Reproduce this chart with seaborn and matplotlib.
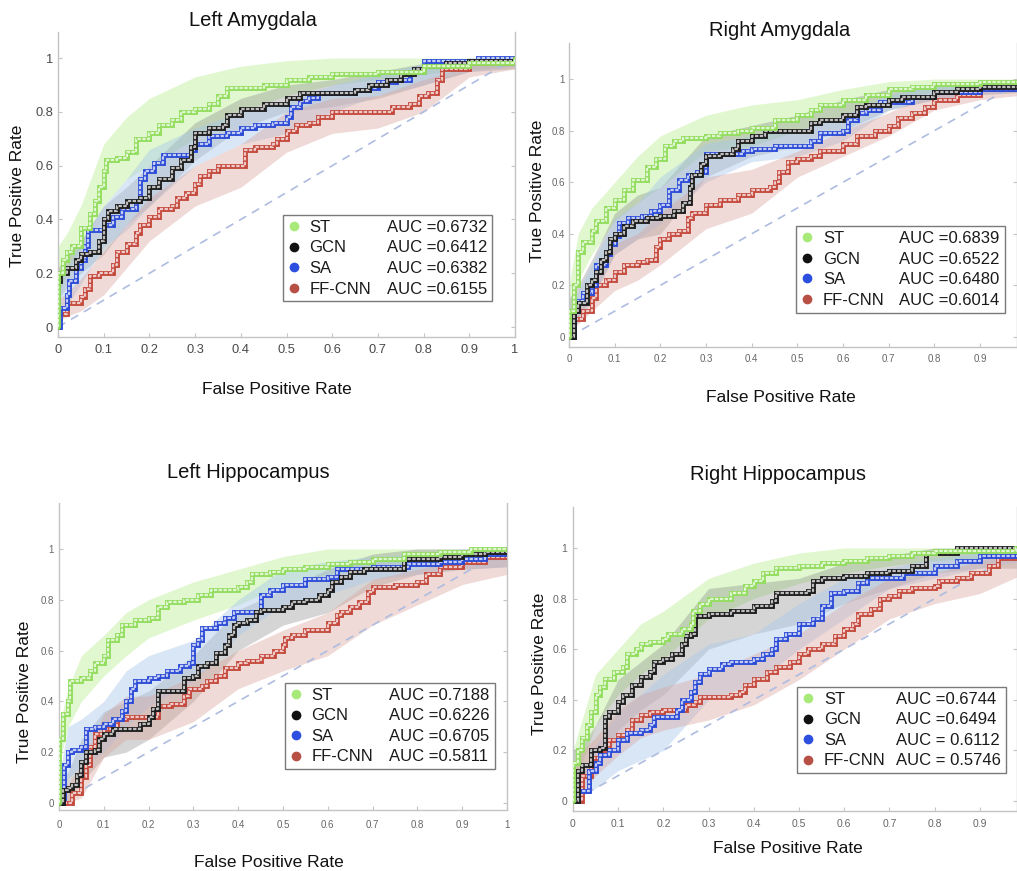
import matplotlib
matplotlib.use("Agg")
import matplotlib.pyplot as plt
import pandas as pd
import seaborn as sns
from matplotlib.lines import Line2D

sns.set_theme(style="white")
plt.rcParams['font.family'] = ['Liberation Sans', 'DejaVu Sans']

# ---------------- data ----------------
MODELS = ["ST", "GCN", "SA", "FF-CNN"]
PANEL_TITLES = ["Left Amygdala", "Right Amygdala", "Left Hippocampus", "Right Hippocampus"]
AUC_LA = ["AUC =0.6732", "AUC =0.6412", "AUC =0.6382", "AUC =0.6155"]
AUC_RA = ["AUC =0.6839", "AUC =0.6522", "AUC =0.6480", "AUC =0.6014"]
AUC_LH = ["AUC =0.7188", "AUC =0.6226", "AUC =0.6705", "AUC =0.5811"]
AUC_RH = ["AUC =0.6744", "AUC =0.6494", "AUC = 0.6112", "AUC = 0.5746"]
X_TICKS = [0, 0.1, 0.2, 0.3, 0.4, 0.5, 0.6, 0.7, 0.8, 0.9, 1.0]
X_TICK_LABELS = ["0", "0.1", "0.2", "0.3", "0.4", "0.5", "0.6", "0.7", "0.8", "0.9", "1"]
Y_TICKS = [0, 0.2, 0.4, 0.6, 0.8, 1.0]
Y_TICK_LABELS = ["0", "0.2", "0.4", "0.6", "0.8", "1"]
CHANCE_FPR = [0, 1]
CHANCE_TPR = [0, 1]
BAND_FPR = [0, 0.02, 0.05, 0.1, 0.15, 0.2, 0.3, 0.4, 0.5, 0.6, 0.7, 0.8, 0.9, 1.0]

# Left Amygdala (FPR, TPR) ROC vertices
LA_ST = [(0, 0), (0, 0.2), (0.01, 0.25), (0.02, 0.28), (0.03, 0.3), (0.05, 0.37), (0.07, 0.42), (0.08, 0.47),
         (0.09, 0.52), (0.1, 0.58), (0.105, 0.62), (0.13, 0.63), (0.15, 0.65), (0.17, 0.7), (0.2, 0.72),
         (0.22, 0.75), (0.25, 0.77), (0.27, 0.8), (0.3, 0.81), (0.33, 0.83), (0.35, 0.86), (0.37, 0.89),
         (0.45, 0.9), (0.5, 0.92), (0.55, 0.93), (0.6, 0.94), (0.7, 0.95), (0.8, 0.97), (0.9, 0.98), (1.0, 1.0)]
LA_GCN = [(0, 0), (0, 0.17), (0.005, 0.2), (0.02, 0.22), (0.04, 0.25), (0.05, 0.27), (0.07, 0.28), (0.09, 0.32),
          (0.1, 0.4), (0.11, 0.43), (0.13, 0.45), (0.15, 0.47), (0.18, 0.48), (0.2, 0.52), (0.22, 0.55),
          (0.25, 0.59), (0.27, 0.62), (0.29, 0.67), (0.3, 0.72), (0.33, 0.74), (0.36, 0.75), (0.37, 0.79),
          (0.4, 0.81), (0.45, 0.83), (0.5, 0.85), (0.53, 0.87), (0.65, 0.88), (0.68, 0.9), (0.72, 0.92),
          (0.75, 0.94), (0.78, 0.96), (0.8, 0.97), (0.85, 0.98), (0.9, 0.99), (1.0, 1.0)]
LA_SA = [(0, 0), (0.005, 0.07), (0.02, 0.12), (0.025, 0.17), (0.04, 0.22), (0.05, 0.25), (0.06, 0.3),
         (0.065, 0.36), (0.1, 0.38), (0.12, 0.41), (0.14, 0.44), (0.17, 0.47), (0.18, 0.55), (0.19, 0.58),
         (0.21, 0.61), (0.23, 0.64), (0.29, 0.66), (0.3, 0.68), (0.33, 0.71), (0.37, 0.72), (0.4, 0.74),
         (0.43, 0.75), (0.47, 0.76), (0.5, 0.78), (0.51, 0.82), (0.53, 0.84), (0.55, 0.85), (0.57, 0.87),
         (0.65, 0.88), (0.68, 0.89), (0.7, 0.91), (0.74, 0.92), (0.77, 0.95), (0.8, 0.99), (0.92, 1.0), (1.0, 1.0)]
LA_FF = [(0, 0), (0, 0.05), (0.02, 0.09), (0.05, 0.11), (0.06, 0.14), (0.07, 0.19), (0.09, 0.2), (0.12, 0.23),
         (0.13, 0.28), (0.15, 0.31), (0.17, 0.35), (0.18, 0.38), (0.2, 0.41), (0.22, 0.44), (0.25, 0.45),
         (0.26, 0.48), (0.28, 0.5), (0.3, 0.53), (0.31, 0.56), (0.33, 0.58), (0.35, 0.6), (0.41, 0.66),
         (0.43, 0.67), (0.47, 0.68), (0.48, 0.7), (0.5, 0.73), (0.52, 0.75), (0.55, 0.76), (0.57, 0.78),
         (0.6, 0.8), (0.7, 0.8), (0.73, 0.82), (0.77, 0.83), (0.79, 0.86), (0.81, 0.87), (0.83, 0.92),
         (0.84, 0.96), (0.9, 0.98), (1.0, 1.0)]

# Right Amygdala
RA_ST = [(0, 0), (0, 0.1), (0.01, 0.2), (0.02, 0.33), (0.03, 0.37), (0.05, 0.41), (0.06, 0.45), (0.08, 0.5),
         (0.1, 0.53), (0.12, 0.57), (0.14, 0.61), (0.17, 0.66), (0.19, 0.69), (0.21, 0.74), (0.23, 0.76),
         (0.25, 0.77), (0.3, 0.78), (0.33, 0.79), (0.37, 0.8), (0.4, 0.81), (0.45, 0.84), (0.5, 0.86),
         (0.53, 0.88), (0.55, 0.9), (0.6, 0.92), (0.65, 0.94), (0.7, 0.96), (0.75, 0.97), (0.8, 0.98),
         (0.9, 0.99), (1.0, 1.0)]
RA_GCN = [(0, 0), (0.01, 0.1), (0.02, 0.13), (0.04, 0.2), (0.05, 0.22), (0.06, 0.25), (0.07, 0.3), (0.08, 0.33),
          (0.09, 0.38), (0.1, 0.4), (0.12, 0.43), (0.14, 0.45), (0.17, 0.46), (0.2, 0.47), (0.23, 0.49),
          (0.25, 0.52), (0.265, 0.58), (0.27, 0.63), (0.29, 0.67), (0.3, 0.7), (0.33, 0.71), (0.36, 0.73),
          (0.37, 0.76), (0.4, 0.78), (0.43, 0.8), (0.53, 0.83), (0.55, 0.84), (0.6, 0.86), (0.63, 0.89),
          (0.65, 0.9), (0.7, 0.92), (0.73, 0.93), (0.8, 0.95), (0.85, 0.96), (0.9, 0.97), (1.0, 0.98)]
RA_SA = [(0, 0), (0.01, 0.02), (0.012, 0.1), (0.02, 0.14), (0.03, 0.17), (0.05, 0.2), (0.06, 0.28), (0.08, 0.32),
         (0.09, 0.36), (0.1, 0.39), (0.11, 0.44), (0.13, 0.46), (0.16, 0.47), (0.18, 0.49), (0.2, 0.51),
         (0.22, 0.57), (0.24, 0.61), (0.26, 0.63), (0.28, 0.64), (0.3, 0.71), (0.38, 0.72), (0.4, 0.73),
         (0.45, 0.74), (0.53, 0.76), (0.55, 0.79), (0.6, 0.8), (0.61, 0.84), (0.63, 0.87), (0.65, 0.88),
         (0.68, 0.91), (0.75, 0.93), (0.8, 0.95), (0.9, 0.96), (1.0, 0.97)]
RA_FF = [(0, 0), (0.01, 0.07), (0.03, 0.1), (0.05, 0.15), (0.06, 0.2), (0.08, 0.22), (0.1, 0.25), (0.12, 0.28),
         (0.15, 0.29), (0.17, 0.3), (0.19, 0.35), (0.2, 0.38), (0.22, 0.4), (0.24, 0.41), (0.26, 0.46),
         (0.27, 0.48), (0.3, 0.51), (0.33, 0.53), (0.37, 0.55), (0.4, 0.57), (0.44, 0.58), (0.45, 0.6),
         (0.46, 0.64), (0.48, 0.68), (0.5, 0.69), (0.53, 0.7), (0.55, 0.72), (0.6, 0.75), (0.63, 0.78),
         (0.67, 0.8), (0.7, 0.82), (0.72, 0.85), (0.75, 0.87), (0.78, 0.89), (0.8, 0.92), (0.85, 0.94),
         (0.9, 0.96), (1.0, 0.97)]

# Left Hippocampus
LH_ST = [(0, 0), (0, 0.25), (0.01, 0.35), (0.02, 0.4), (0.025, 0.48), (0.05, 0.49), (0.07, 0.52), (0.08, 0.55),
         (0.1, 0.58), (0.11, 0.64), (0.13, 0.66), (0.14, 0.7), (0.17, 0.72), (0.2, 0.73), (0.22, 0.77),
         (0.24, 0.79), (0.28, 0.8), (0.31, 0.82), (0.34, 0.84), (0.4, 0.85), (0.42, 0.87), (0.43, 0.9),
         (0.47, 0.91), (0.5, 0.92), (0.55, 0.93), (0.6, 0.94), (0.65, 0.95), (0.7, 0.96), (0.77, 0.98),
         (0.85, 0.99), (0.92, 1.0), (1.0, 1.0)]
LH_GCN = [(0, 0), (0.01, 0.05), (0.02, 0.06), (0.03, 0.07), (0.04, 0.11), (0.05, 0.16), (0.06, 0.2), (0.08, 0.21),
          (0.09, 0.25), (0.1, 0.27), (0.12, 0.29), (0.18, 0.31), (0.2, 0.34), (0.21, 0.37), (0.22, 0.44),
          (0.28, 0.49), (0.3, 0.5), (0.31, 0.54), (0.33, 0.55), (0.35, 0.59), (0.37, 0.62), (0.38, 0.66),
          (0.39, 0.7), (0.4, 0.71), (0.42, 0.72), (0.44, 0.75), (0.45, 0.76), (0.5, 0.77), (0.52, 0.79),
          (0.55, 0.8), (0.58, 0.82), (0.6, 0.84), (0.61, 0.87), (0.63, 0.89), (0.65, 0.91), (0.68, 0.92),
          (0.77, 0.96), (0.85, 0.97), (0.9, 0.98), (0.95, 0.99), (1.0, 1.0)]
LH_SA = [(0, 0), (0.01, 0.02), (0.012, 0.15), (0.02, 0.2), (0.03, 0.21), (0.05, 0.22), (0.06, 0.29), (0.08, 0.3),
         (0.1, 0.31), (0.12, 0.33), (0.14, 0.36), (0.15, 0.4), (0.16, 0.45), (0.17, 0.48), (0.2, 0.49),
         (0.22, 0.5), (0.24, 0.52), (0.27, 0.54), (0.29, 0.55), (0.3, 0.62), (0.31, 0.64), (0.32, 0.69),
         (0.35, 0.71), (0.37, 0.73), (0.39, 0.75), (0.45, 0.82), (0.47, 0.84), (0.5, 0.86), (0.55, 0.88),
         (0.6, 0.89), (0.62, 0.92), (0.7, 0.93), (0.78, 0.94), (0.85, 0.95), (0.9, 0.96), (0.95, 0.98), (1.0, 1.0)]
LH_FF = [(0, 0), (0.03, 0.04), (0.05, 0.1), (0.06, 0.15), (0.07, 0.22), (0.08, 0.27), (0.1, 0.29), (0.13, 0.33),
         (0.15, 0.34), (0.22, 0.38), (0.25, 0.39), (0.28, 0.42), (0.29, 0.45), (0.32, 0.46), (0.33, 0.48),
         (0.35, 0.5), (0.37, 0.53), (0.4, 0.55), (0.42, 0.56), (0.45, 0.58), (0.48, 0.6), (0.5, 0.62),
         (0.505, 0.65), (0.52, 0.66), (0.55, 0.68), (0.6, 0.71), (0.62, 0.74), (0.63, 0.75), (0.65, 0.77),
         (0.67, 0.79), (0.69, 0.83), (0.7, 0.85), (0.75, 0.86), (0.8, 0.87), (0.82, 0.9), (0.85, 0.93),
         (0.9, 0.95), (0.95, 0.97), (1.0, 0.99)]

# Right Hippocampus
RH_ST = [(0, 0), (0, 0.15), (0.01, 0.2), (0.02, 0.25), (0.03, 0.3), (0.04, 0.35), (0.05, 0.42), (0.06, 0.45),
         (0.07, 0.48), (0.09, 0.51), (0.11, 0.53), (0.12, 0.58), (0.14, 0.6), (0.15, 0.62), (0.17, 0.63),
         (0.2, 0.64), (0.21, 0.66), (0.24, 0.68), (0.26, 0.7), (0.265, 0.75), (0.28, 0.78), (0.3, 0.8),
         (0.35, 0.82), (0.38, 0.85), (0.4, 0.87), (0.42, 0.9), (0.45, 0.92), (0.5, 0.93), (0.55, 0.94),
         (0.6, 0.95), (0.65, 0.96), (0.7, 0.97), (0.75, 0.98), (0.8, 0.99), (0.98, 1.0), (1.0, 1.0)]
RH_GCN = [(0, 0), (0.01, 0.12), (0.02, 0.14), (0.04, 0.2), (0.06, 0.21), (0.07, 0.33), (0.08, 0.35), (0.1, 0.39),
          (0.11, 0.42), (0.13, 0.46), (0.15, 0.49), (0.17, 0.51), (0.18, 0.55), (0.2, 0.56), (0.22, 0.58),
          (0.24, 0.62), (0.25, 0.65), (0.26, 0.66), (0.27, 0.73), (0.3, 0.74), (0.35, 0.75), (0.4, 0.77),
          (0.44, 0.79), (0.45, 0.82), (0.52, 0.83), (0.53, 0.87), (0.55, 0.88), (0.6, 0.89), (0.65, 0.9),
          (0.7, 0.91), (0.75, 0.93), (0.78, 0.98), (0.85, 1.0), (1.0, 1.0)]
RH_SA = [(0, 0), (0.01, 0.04), (0.035, 0.12), (0.05, 0.15), (0.06, 0.18), (0.08, 0.2), (0.1, 0.24), (0.12, 0.27),
         (0.15, 0.28), (0.17, 0.3), (0.18, 0.33), (0.23, 0.36), (0.24, 0.4), (0.26, 0.43), (0.27, 0.47),
         (0.28, 0.5), (0.3, 0.52), (0.33, 0.54), (0.35, 0.55), (0.4, 0.56), (0.42, 0.58), (0.44, 0.6),
         (0.45, 0.64), (0.47, 0.66), (0.5, 0.7), (0.53, 0.72), (0.55, 0.77), (0.57, 0.82), (0.6, 0.83),
         (0.63, 0.86), (0.65, 0.88), (0.73, 0.9), (0.8, 0.93), (0.85, 0.95), (0.9, 0.97), (1.0, 0.99)]
RH_FF = [(0, 0), (0.02, 0.1), (0.04, 0.17), (0.06, 0.2), (0.08, 0.24), (0.1, 0.26), (0.12, 0.28), (0.13, 0.32),
         (0.15, 0.34), (0.17, 0.35), (0.2, 0.36), (0.25, 0.38), (0.27, 0.39), (0.28, 0.41), (0.35, 0.42),
         (0.37, 0.43), (0.38, 0.46), (0.4, 0.48), (0.43, 0.51), (0.45, 0.53), (0.48, 0.55), (0.5, 0.58),
         (0.52, 0.6), (0.55, 0.62), (0.58, 0.65), (0.6, 0.68), (0.62, 0.7), (0.63, 0.74), (0.66, 0.76),
         (0.68, 0.8), (0.7, 0.81), (0.72, 0.83), (0.75, 0.84), (0.8, 0.85), (0.81, 0.87), (0.85, 0.88),
         (0.88, 0.9), (0.92, 0.93), (0.94, 0.96), (1.0, 0.97)]

# shaded spread bands (lower / upper TPR on BAND_FPR)
LA_ST_LO = [0.12, 0.2, 0.3, 0.45, 0.55, 0.6, 0.7, 0.8, 0.86, 0.9, 0.92, 0.94, 0.96, 0.97]
LA_ST_HI = [0.3, 0.35, 0.45, 0.68, 0.78, 0.85, 0.93, 0.97, 0.99, 1.0, 1.0, 1.0, 1.0, 1.0]
LA_GCN_LO = [0.1, 0.15, 0.2, 0.27, 0.38, 0.45, 0.62, 0.74, 0.8, 0.82, 0.85, 0.9, 0.95, 0.96]
LA_GCN_HI = [0.22, 0.27, 0.32, 0.45, 0.52, 0.6, 0.76, 0.85, 0.9, 0.92, 0.95, 0.98, 1.0, 1.0]
LA_SA_LO = [0.04, 0.08, 0.16, 0.3, 0.36, 0.45, 0.6, 0.68, 0.72, 0.8, 0.86, 0.9, 0.95, 0.97]
LA_SA_HI = [0.15, 0.22, 0.32, 0.45, 0.55, 0.66, 0.74, 0.8, 0.84, 0.9, 0.94, 0.98, 1.0, 1.0]
LA_FF_LO = [0.02, 0.04, 0.06, 0.12, 0.22, 0.32, 0.45, 0.52, 0.65, 0.72, 0.74, 0.8, 0.93, 0.96]
LA_FF_HI = [0.1, 0.13, 0.18, 0.28, 0.38, 0.48, 0.6, 0.68, 0.8, 0.85, 0.86, 0.92, 0.97, 1.0]

RA_ST_LO = [0.05, 0.22, 0.32, 0.45, 0.52, 0.58, 0.72, 0.74, 0.8, 0.86, 0.92, 0.95, 0.97, 0.98]
RA_ST_HI = [0.2, 0.4, 0.5, 0.6, 0.7, 0.78, 0.86, 0.9, 0.92, 0.96, 0.99, 1.0, 1.0, 1.0]
RA_GCN_LO = [0.05, 0.08, 0.15, 0.32, 0.38, 0.4, 0.62, 0.7, 0.74, 0.8, 0.88, 0.92, 0.94, 0.95]
RA_GCN_HI = [0.15, 0.2, 0.3, 0.48, 0.55, 0.58, 0.78, 0.82, 0.86, 0.92, 0.96, 0.98, 0.99, 1.0]
RA_SA_LO = [0.0, 0.06, 0.14, 0.32, 0.38, 0.44, 0.6, 0.68, 0.7, 0.76, 0.88, 0.92, 0.94, 0.95]
RA_SA_HI = [0.1, 0.18, 0.28, 0.46, 0.52, 0.62, 0.75, 0.78, 0.8, 0.86, 0.94, 0.97, 0.98, 1.0]
RA_FF_LO = [0.03, 0.05, 0.1, 0.18, 0.22, 0.28, 0.42, 0.48, 0.62, 0.7, 0.78, 0.88, 0.92, 0.94]
RA_FF_HI = [0.1, 0.12, 0.22, 0.36, 0.4, 0.48, 0.62, 0.65, 0.72, 0.8, 0.87, 0.95, 0.97, 1.0]

LH_ST_LO = [0.15, 0.3, 0.4, 0.5, 0.58, 0.65, 0.72, 0.78, 0.86, 0.9, 0.92, 0.94, 0.95, 0.96]
LH_ST_HI = [0.3, 0.45, 0.58, 0.66, 0.75, 0.8, 0.87, 0.92, 0.97, 1.0, 1.0, 1.0, 1.0, 1.0]
LH_GCN_LO = [0.0, 0.0, 0.08, 0.18, 0.2, 0.25, 0.4, 0.6, 0.7, 0.75, 0.85, 0.9, 0.92, 0.93]
LH_GCN_HI = [0.1, 0.12, 0.25, 0.36, 0.4, 0.44, 0.58, 0.76, 0.84, 0.92, 0.98, 1.0, 1.0, 1.0]
LH_SA_LO = [0.0, 0.1, 0.14, 0.2, 0.3, 0.38, 0.48, 0.66, 0.78, 0.82, 0.88, 0.9, 0.92, 0.93]
LH_SA_HI = [0.1, 0.3, 0.33, 0.4, 0.52, 0.58, 0.64, 0.8, 0.92, 0.95, 0.97, 0.98, 1.0, 1.0]
LH_FF_LO = [0.0, 0.0, 0.02, 0.18, 0.25, 0.25, 0.32, 0.45, 0.52, 0.58, 0.7, 0.78, 0.86, 0.9]
LH_FF_HI = [0.05, 0.07, 0.15, 0.35, 0.42, 0.42, 0.5, 0.6, 0.68, 0.75, 0.88, 0.92, 0.96, 1.0]

RH_ST_LO = [0.08, 0.15, 0.3, 0.42, 0.5, 0.56, 0.72, 0.8, 0.86, 0.9, 0.93, 0.95, 0.96, 0.97]
RH_ST_HI = [0.2, 0.32, 0.5, 0.6, 0.7, 0.75, 0.88, 0.94, 0.98, 1.0, 1.0, 1.0, 1.0, 1.0]
RH_GCN_LO = [0.05, 0.08, 0.12, 0.28, 0.36, 0.42, 0.6, 0.66, 0.7, 0.78, 0.84, 0.9, 0.92, 0.92]
RH_GCN_HI = [0.2, 0.22, 0.3, 0.48, 0.55, 0.62, 0.84, 0.86, 0.88, 0.94, 0.97, 1.0, 1.0, 1.0]
RH_SA_LO = [0.0, 0.02, 0.05, 0.12, 0.16, 0.2, 0.4, 0.46, 0.6, 0.72, 0.84, 0.88, 0.92, 0.95]
RH_SA_HI = [0.05, 0.1, 0.22, 0.35, 0.42, 0.5, 0.62, 0.66, 0.78, 0.88, 0.92, 0.96, 0.98, 1.0]
RH_FF_LO = [0.0, 0.03, 0.1, 0.18, 0.25, 0.28, 0.32, 0.38, 0.48, 0.6, 0.72, 0.78, 0.82, 0.9]
RH_FF_HI = [0.15, 0.2, 0.25, 0.36, 0.42, 0.45, 0.5, 0.58, 0.66, 0.78, 0.88, 0.9, 0.95, 1.0]

# ---------------- styling ----------------
LINE_COLORS = {"ST": "#92dd5e", "GCN": "#1c1c1c", "SA": "#2a4ad6", "FF-CNN": "#c4483c"}
DOT_COLORS = {"ST": "#a8ea7a", "GCN": "#111111", "SA": "#2c4fe0", "FF-CNN": "#b84f45"}
BAND_COLORS = {"ST": ("#c2f0a0", 0.5), "GCN": ("#7f7f7f", 0.32), "SA": ("#a9c8ec", 0.45),
               "FF-CNN": ("#d9a39b", 0.40)}

W, H = 1017, 871
fig = plt.figure(figsize=(W / 100, H / 100), dpi=100)
fig.patch.set_facecolor("white")

panels = [
    dict(title=PANEL_TITLES[0], auc=AUC_LA, curves=[LA_ST, LA_GCN, LA_SA, LA_FF],
         bands=[(LA_ST_LO, LA_ST_HI), (LA_GCN_LO, LA_GCN_HI), (LA_SA_LO, LA_SA_HI), (LA_FF_LO, LA_FF_HI)],
         box=(58, 515, 32, 337), xlim=(0, 1.0), ylim=(-0.037, 1.097),
         title_xy=(253, 20), xlab_xy=(277, 390), ylab_xy=(18, 196),
         leg=(0.492, 0.072, 0.95, 0.40), tsize=9.3, tcolor="#4a4a4a", xpad=5, ypad=3.6),
    dict(title=PANEL_TITLES[1], auc=AUC_RA, curves=[RA_ST, RA_GCN, RA_SA, RA_FF],
         bands=[(RA_ST_LO, RA_ST_HI), (RA_GCN_LO, RA_GCN_HI), (RA_SA_LO, RA_SA_HI), (RA_FF_LO, RA_FF_HI)],
         box=(569, 1017, 43, 347), xlim=(0, 0.981), ylim=(-0.039, 1.14),
         title_xy=(780, 30), xlab_xy=(781, 397), ylab_xy=(537, 191),
         leg=(0.507, 0.066, 0.973, 0.398), tsize=7.0, tcolor="#666666", xpad=5, ypad=3),
    dict(title=PANEL_TITLES[2], auc=AUC_LH, curves=[LH_ST, LH_GCN, LH_SA, LH_FF],
         bands=[(LH_ST_LO, LH_ST_HI), (LH_GCN_LO, LH_GCN_HI), (LH_SA_LO, LH_SA_HI), (LH_FF_LO, LH_FF_HI)],
         box=(59, 507, 503, 810), xlim=(0, 1.0), ylim=(-0.028, 1.181),
         title_xy=(248, 472), xlab_xy=(269, 862), ylab_xy=(25, 692),
         leg=(0.504, 0.081, 0.973, 0.414), tsize=7.0, tcolor="#666666", xpad=7, ypad=3.6),
    dict(title=PANEL_TITLES[3], auc=AUC_RH, curves=[RH_ST, RH_GCN, RH_SA, RH_FF],
         bands=[(RH_ST_LO, RH_ST_HI), (RH_GCN_LO, RH_GCN_HI), (RH_SA_LO, RH_SA_HI), (RH_FF_LO, RH_FF_HI)],
         box=(573, 1017, 507, 811), xlim=(0, 0.982), ylim=(-0.04, 1.162),
         title_xy=(778, 475), xlab_xy=(788, 848), ylab_xy=(540, 664),
         leg=(0.505, 0.079, 0.975, 0.408), tsize=7.5, tcolor="#666666", xpad=6, ypad=4),
]

SPINE = "#c4c4c4"

for p in panels:
    l, r, t, b = p["box"]
    ax = fig.add_axes([l / W, 1 - b / H, (r - l) / W, (b - t) / H])
    ax.set_facecolor("white")

    # shaded bands
    for name, (lo, hi) in zip(MODELS, p["bands"]):
        c, a = BAND_COLORS[name]
        ax.fill_between(BAND_FPR, lo, hi, color=c, alpha=a, lw=0, zorder=1)

    # chance line
    chance = pd.DataFrame({"fpr": CHANCE_FPR, "tpr": CHANCE_TPR})
    sns.lineplot(data=chance, x="fpr", y="tpr", ax=ax, color="#aebce0", lw=1.2,
                 linestyle=(0, (5, 4)), estimator=None, legend=False, zorder=2)

    # ROC curves drawn as chains of hollow squares
    for k in [3, 2, 1, 0]:
        name = MODELS[k]
        df = pd.DataFrame(p["curves"][k], columns=["fpr", "tpr"])
        sns.lineplot(data=df, x="fpr", y="tpr", ax=ax, color=LINE_COLORS[name], lw=3.5,
                     drawstyle="steps-post", estimator=None, sort=False, legend=False,
                     zorder=3 + 2 * (3 - k), solid_joinstyle="miter")
        sns.lineplot(data=df, x="fpr", y="tpr", ax=ax, color="white", alpha=0.72, lw=1.6,
                     drawstyle="steps-post", estimator=None, sort=False, legend=False,
                     linestyle=(0, (1.5, 0.65)), zorder=4 + 2 * (3 - k))

    ax.set_xlim(*p["xlim"])
    ax.set_ylim(*p["ylim"])
    keep = [i for i, v in enumerate(X_TICKS) if v <= p["xlim"][1] + 1e-9]
    ax.set_xticks([X_TICKS[i] for i in keep])
    ax.set_xticklabels([X_TICK_LABELS[i] for i in keep])
    ax.set_yticks(Y_TICKS)
    ax.set_yticklabels(Y_TICK_LABELS)
    ax.set_xlabel("")
    ax.set_ylabel("")
    ax.tick_params(axis="x", direction="in", length=3, width=0.8, color=SPINE,
                   labelsize=p["tsize"], labelcolor=p["tcolor"], pad=p["xpad"], bottom=True)
    ax.tick_params(axis="y", direction="in", length=3, width=0.8, color=SPINE,
                   labelsize=p["tsize"], labelcolor=p["tcolor"], pad=p["ypad"], left=True, right=True)
    for side in ["left", "bottom", "right"]:
        ax.spines[side].set_visible(True)
        ax.spines[side].set_color(SPINE)
        ax.spines[side].set_linewidth(1.0)
    ax.spines["top"].set_visible(False)
    ax.grid(False)

    # legend with AUC column
    handles = [Line2D([], [], ls="", marker="o", markersize=7, color=DOT_COLORS[n],
                      markeredgewidth=0) for n in MODELS]
    blanks = [Line2D([], [], ls="", marker="") for _ in MODELS]
    x0, y0, x1, y1 = p["leg"]
    leg = ax.legend(handles + blanks, MODELS + p["auc"], ncol=2, loc="upper left",
                    bbox_to_anchor=(x0, y0, x1 - x0, y1 - y0), mode="expand", borderaxespad=0,
                    fontsize=12, handlelength=0.7, handletextpad=0.6, columnspacing=0.2,
                    labelspacing=0.33, borderpad=0.3, frameon=True, fancybox=False,
                    framealpha=1, edgecolor="#7a7a7a")
    leg.get_frame().set_linewidth(1.0)
    leg.set_zorder(20)
    for txt in leg.get_texts():
        txt.set_color("#1a1a1a")

    # titles and axis labels
    tx, ty = p["title_xy"]
    fig.text(tx / W, 1 - ty / H, p["title"], ha="center", va="center", fontsize=14.5, color="#111111")
    lx, ly = p["xlab_xy"]
    fig.text(lx / W, 1 - ly / H, "False Positive Rate", ha="center", va="center", fontsize=12.5,
             color="#111111")
    yx, yy = p["ylab_xy"]
    fig.text(yx / W, 1 - yy / H, "True Positive Rate", ha="center", va="center", rotation=90,
             fontsize=12.5, color="#111111")

fig.savefig("out.png", dpi=100, facecolor="white")
